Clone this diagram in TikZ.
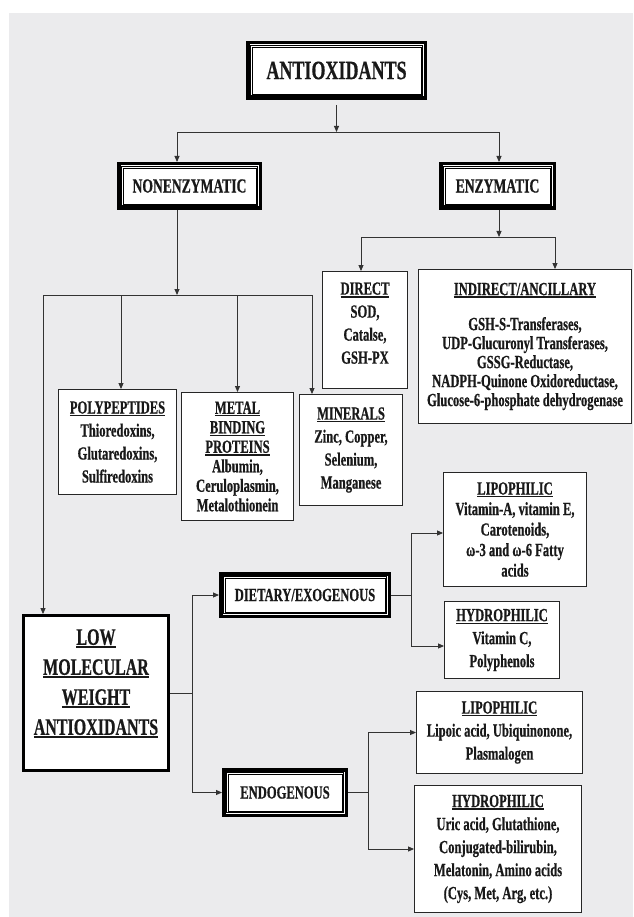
\documentclass[tikz,border=0pt]{standalone}
\usepackage{fontspec}
\setmainfont{Liberation Serif}[FakeStretch=0.68,BoldFeatures={FakeBold=0.6}]
\usetikzlibrary{arrows.meta}
\definecolor{bggray}{HTML}{EBEBED}
\definecolor{linegray}{HTML}{333333}
\newcommand{\hd}[1]{\vtop{\hbox{#1}\kern1.2pt\hrule height 1.5pt}}

\begin{document}
\begin{tikzpicture}[x=1pt,y=-1pt,
dbox/.style={rectangle,fill=white,draw=black,line width=0.8pt,inner sep=0pt,outer sep=6pt,align=center,
  preaction={draw=black,line width=12pt},preaction={draw=white,line width=5pt},
  preaction={draw=black,line width=3.6pt},preaction={draw=white,line width=2pt},
  text=black!90,font=\bfseries\fontsize{18.5}{21}\selectfont},
ibox/.style={rectangle,fill=white,draw=black!85,line width=0.9pt,inner sep=0pt,align=center,
  text=black!90,font=\bfseries\fontsize{18.5}{23}\selectfont},
lowbox/.style={rectangle,fill=white,draw=black,line width=2.8pt,inner sep=0pt,align=center,
  text=black!90,font=\bfseries\fontsize{23.5}{30}\selectfont},
ln/.style={draw=linegray,line width=0.9pt},
arr/.style={ln,-{Triangle[length=6pt,width=5pt]}}]
	\useasboundingbox (0,0) rectangle (633,917);
	\fill[bggray] (9,13) rectangle (633,917);
	
	\node[dbox,minimum width=169pt,minimum height=47pt,font=\bfseries\fontsize{26.5}{30}\selectfont] at (336.5,70.5) (root) {ANTIOXIDANTS};
	\node[dbox,minimum width=133pt,minimum height=36pt,font=\bfseries\fontsize{20}{23}\selectfont] at (189.5,186) (nonenz) {NONENZYMATIC};
	\node[dbox,minimum width=105pt,minimum height=36pt,font=\bfseries\fontsize{20}{23}\selectfont] at (497.5,186) (enz) {ENZYMATIC};
	
	\node[ibox,minimum width=85pt,minimum height=117pt] at (365,330) (direct) {\hd{DIRECT}\\SOD,\\Catalse,\\GSH-PX\\[-9pt]\mbox{}};
	\node[ibox,minimum width=213pt,minimum height=154pt,font=\bfseries\fontsize{18.5}{19}\selectfont] at (525,346.5) (indirect) {\hd{INDIRECT/ANCILLARY}\\[16pt]GSH-S-Transferases,\\UDP-Glucuronyl Transferases,\\GSSG-Reductase,\\NADPH-Quinone Oxidoreductase,\\Glucose-6-phosphate dehydrogenase};
	
	\node[ibox,minimum width=118pt,minimum height=105pt] at (117.5,442) (poly) {\hd{POLYPEPTIDES}\\Thioredoxins,\\Glutaredoxins,\\Sulfiredoxins};
	\node[ibox,minimum width=112pt,minimum height=128pt,font=\bfseries\fontsize{18.5}{19.5}\selectfont] at (237.5,456.5) (metal) {\hd{METAL}\\\hd{BINDING}\\\hd{PROTEINS}\\Albumin,\\Ceruloplasmin,\\Metalothionein};
	\node[ibox,minimum width=103pt,minimum height=111pt] at (351,450) (minerals) {\hd{MINERALS}\\Zinc, Copper,\\Selenium,\\Manganese};
	
	\node[lowbox,minimum width=145pt,minimum height=155pt] at (96,693) (low) {\hd{LOW}\\\hd{MOLECULAR}\\\hd{WEIGHT}\\\hd{ANTIOXIDANTS}\\[-8pt]\mbox{}};
	\node[dbox,minimum width=160pt,minimum height=34pt] at (305,595) (diet) {DIETARY/EXOGENOUS};
	\node[dbox,minimum width=114pt,minimum height=37pt] at (285,792.5) (endo) {ENDOGENOUS};
	
	\node[ibox,minimum width=143pt,minimum height=114pt,font=\bfseries\fontsize{18.5}{20.5}\selectfont] at (515,529.5) (lipoa) {\hd{LIPOPHILIC}\\Vitamin-A, vitamin E,\\Carotenoids,\\ω-3 and ω-6 Fatty\\acids};
	\node[ibox,minimum width=115pt,minimum height=77pt] at (502,640) (hydroa) {\hd{HYDROPHILIC}\\Vitamin C,\\Polyphenols};
	\node[ibox,minimum width=166pt,minimum height=82pt] at (499.5,732.5) (lipob) {\hd{LIPOPHILIC}\\Lipoic acid, Ubiquinonone,\\Plasmalogen};
	\node[ibox,minimum width=167pt,minimum height=127pt] at (498,849) (hydrob) {\hd{HYDROPHILIC}\\Uric acid, Glutathione,\\Conjugated-bilirubin,\\Melatonin, Amino acids\\(Cys, Met, Arg, etc.)};
	
	\draw[arr] ([yshift=-5pt]root.south) -- ++(0,27) coordinate (t1);
	\draw[arr] (t1) -| ([xshift=-12.5pt]nonenz.north);
	\draw[arr] (t1) -| ([xshift=1.5pt]enz.north);
	
	\draw[arr] ([xshift=-12.5pt]nonenz.south) -- ++(0,85) coordinate (t2);
	\draw[arr] (t2) -| ([xshift=-53pt]low.north);
	\draw[arr] (t2) ++(-56,0) -- ([xshift=3.5pt]poly.north);
	\draw[arr] (t2) ++(60.5,0) -- (metal.north);
	\draw[arr] (t2) -| ([xshift=-39pt]minerals.north);
	
	\draw[arr] ([xshift=1.5pt]enz.south) -- ++(0,27) coordinate (t3);
	\draw[arr] (t3) -| ([xshift=-4pt]direct.north);
	\draw[arr] (t3) -| ([xshift=30pt]indirect.north);
	
	\draw[ln] (low.east) -- ++(23,0) coordinate (t4);
	\draw[arr] (t4) |- (diet.west);
	\draw[arr] (t4) |- (endo.west);
	
	\draw[ln] (diet.east) -- ++(20,0) coordinate (t5);
	\draw[arr] (t5) |- ([yshift=-3.5pt]lipoa.west);
	\draw[arr] (t5) |- ([yshift=-6pt]hydroa.west);
	
	\draw[ln] (endo.east) -- ++(20,0) coordinate (t6);
	\draw[arr] (t6) |- (lipob.west);
	\draw[arr] (t6) |- (hydrob.west);
\end{tikzpicture}
\end{document}
